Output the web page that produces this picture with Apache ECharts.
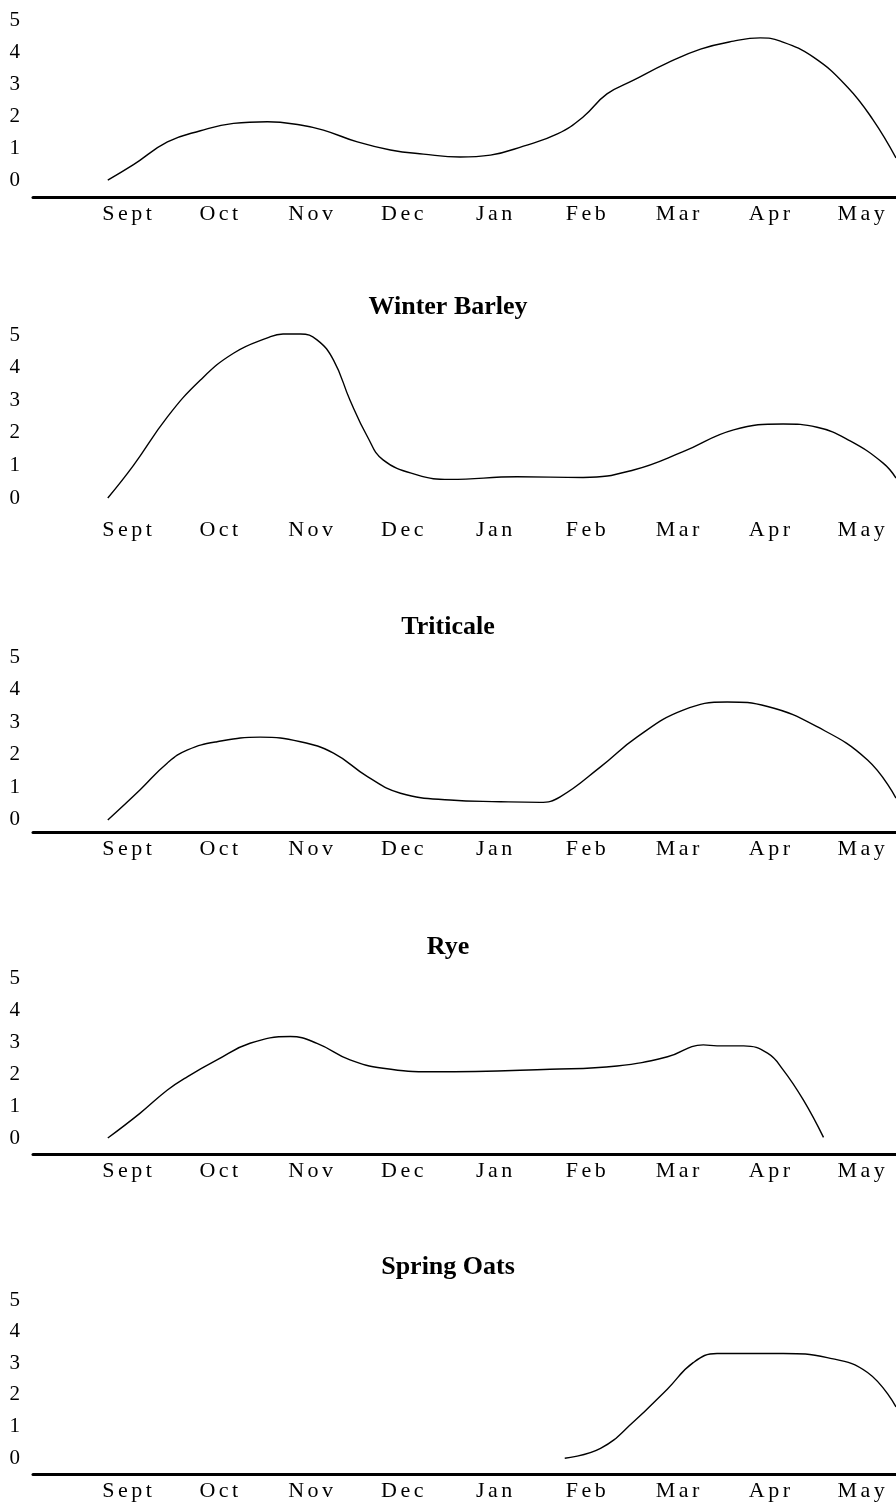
<!DOCTYPE html>
<html>
<head>
<meta charset="utf-8">
<script src="https://cdn.jsdelivr.net/npm/echarts@6/dist/echarts.min.js"></script>
<style>
html,body{margin:0;padding:0;background:#fff;}
#chart{width:896px;height:1502px;}
</style>
</head>
<body>
<div id="chart"></div>
<script>
// ---- data ----
const months = ['Sept', 'Oct', 'Nov', 'Dec', 'Jan', 'Feb', 'Mar', 'Apr', 'May'];
const monthPos = [1, 2, 3, 4, 5, 6, 7, 8, 9];
const yTicks = [0, 1, 2, 3, 4, 5];
const titles = ['', 'Winter Barley', 'Triticale', 'Rye', 'Spring Oats'];

// time axis in months (Sept = 1), value = growth score
const p1X = [0.79, 1.07, 1.44, 1.80, 2.16, 2.53, 2.89, 3.14, 3.51, 3.87, 4.23, 4.63, 4.96, 5.32, 5.69, 5.97, 6.23, 6.52, 6.89, 7.25, 7.61, 7.90, 8.12, 8.48, 8.85, 9.13, 9.38];
const p1Y = [0.00, 0.48, 1.19, 1.54, 1.77, 1.82, 1.72, 1.56, 1.19, 0.94, 0.81, 0.72, 0.78, 1.06, 1.44, 1.97, 2.69, 3.12, 3.66, 4.09, 4.34, 4.44, 4.34, 3.84, 2.91, 1.88, 0.69];

const barleyX = [0.79, 1.07, 1.44, 1.80, 2.16, 2.53, 2.70, 2.89, 3.07, 3.25, 3.43, 3.62, 3.79, 4.16, 4.52, 5.25, 5.97, 6.52, 7.06, 7.61, 8.15, 8.52, 8.88, 9.24, 9.38];
const barleyY = [0.00, 1.00, 2.49, 3.62, 4.44, 4.91, 5.03, 5.03, 4.85, 4.23, 3.00, 1.88, 1.17, 0.71, 0.57, 0.65, 0.63, 0.86, 1.42, 2.09, 2.27, 2.17, 1.75, 1.07, 0.61];

const triticaleX = [0.79, 1.14, 1.44, 1.66, 1.98, 2.45, 2.89, 3.25, 3.62, 3.98, 4.52, 5.07, 5.50, 5.72, 6.16, 6.56, 7.06, 7.54, 7.98, 8.52, 9.07, 9.38];
const triticaleY = [0.00, 0.92, 1.75, 2.15, 2.40, 2.54, 2.40, 2.05, 1.33, 0.82, 0.61, 0.56, 0.54, 0.71, 1.63, 2.55, 3.37, 3.62, 3.48, 2.86, 1.84, 0.67];

const ryeX = [0.79, 1.14, 1.44, 1.66, 1.98, 2.34, 2.78, 3.07, 3.43, 3.79, 4.34, 5.61, 6.34, 6.89, 7.28, 7.43, 7.72, 7.98, 8.15, 8.37, 8.59];
const ryeY = [0.00, 0.77, 1.50, 1.92, 2.44, 2.96, 3.17, 2.96, 2.44, 2.18, 2.07, 2.15, 2.25, 2.54, 2.91, 2.88, 2.88, 2.65, 2.13, 1.19, 0.02];

const oatsX = [5.77, 6.16, 6.52, 6.89, 7.17, 7.43, 8.15, 8.63, 9.07, 9.38];
const oatsY = [0.00, 0.31, 1.15, 2.19, 3.02, 3.31, 3.31, 3.18, 2.71, 1.62];

// ---- spaced lettering for month labels (canvas), drawn glyph by glyph ----
(function () {
  const proto = CanvasRenderingContext2D.prototype;
  const orig = proto.fillText;
  const SPACING = 3.5;
  proto.fillText = function (t, x, y, w) {
    if (typeof t === 'string' && months.indexOf(t) >= 0) {
      const chars = t.split('');
      const widths = chars.map(c => this.measureText(c).width);
      const total = widths.reduce((a, b) => a + b, 0) + SPACING * (chars.length - 1);
      const align = this.textAlign;
      let sx = x;
      if (align === 'center') sx = x - total / 2;
      else if (align === 'right' || align === 'end') sx = x - total;
      this.textAlign = 'left';
      chars.forEach((c, k) => {
        orig.call(this, c, sx, y);
        sx += widths[k] + SPACING;
      });
      this.textAlign = align;
    } else {
      if (w === undefined) orig.call(this, t, x, y); else orig.call(this, t, x, y, w);
    }
  };
})();

// ---- layout ----
const panels = [
  { x: p1X, y: p1Y, top: 20, height: 177, yMin: -0.53, axisLine: true, titleTop: null },
  { x: barleyX, y: barleyY, top: 335, height: 178, yMin: -0.46, axisLine: false, titleTop: 289 },
  { x: triticaleX, y: triticaleY, top: 657, height: 175, yMin: -0.37, axisLine: true, titleTop: 609 },
  { x: ryeX, y: ryeY, top: 978, height: 176, yMin: -0.5, axisLine: true, titleTop: 929 },
  { x: oatsX, y: oatsY, top: 1300, height: 176, yMin: -0.5, axisLine: true, titleTop: 1249 }
];

const FONT = "'Liberation Serif', 'DejaVu Serif', serif";
const option = {
  animation: false,
  backgroundColor: '#ffffff',
  title: [],
  grid: [],
  xAxis: [],
  yAxis: [],
  series: []
};

panels.forEach((p, i) => {
  if (titles[i]) {
    option.title.push({
      text: titles[i],
      left: 'center',
      top: p.titleTop,
      textStyle: { fontFamily: FONT, fontWeight: 'bold', fontSize: 26, color: '#000' }
    });
  }
  option.grid.push({ left: 33, right: 0, top: p.top, height: p.height, containLabel: false });
  option.xAxis.push({
    type: 'value',
    gridIndex: i,
    min: -0.025,
    max: 9.38,
    axisLine: { show: p.axisLine, onZero: false, lineStyle: { color: '#000', width: 3 } },
    axisTick: { show: false },
    splitLine: { show: false },
    axisLabel: {
      customValues: monthPos,
      formatter: v => months[Math.round(v) - 1] || '',
      fontFamily: FONT,
      fontSize: 22,
      color: '#000',
      margin: 6
    }
  });
  option.yAxis.push({
    type: 'value',
    gridIndex: i,
    min: p.yMin,
    max: 5,
    axisLine: { show: false },
    axisTick: { show: false },
    splitLine: { show: false },
    axisLabel: {
      customValues: yTicks,
      formatter: v => String(Math.round(v)),
      fontFamily: FONT,
      fontSize: 21,
      color: '#000',
      margin: 13
    }
  });
  option.series.push({
    type: 'line',
    xAxisIndex: i,
    yAxisIndex: i,
    data: p.x.map((xv, k) => [xv, p.y[k]]),
    smooth: 0.45,
    showSymbol: false,
    lineStyle: { color: '#000', width: 1.4 },
    clip: false
  });
});

const chart = echarts.init(document.getElementById('chart'), null, { renderer: 'canvas' });
chart.setOption(option);
</script>
</body>
</html>
